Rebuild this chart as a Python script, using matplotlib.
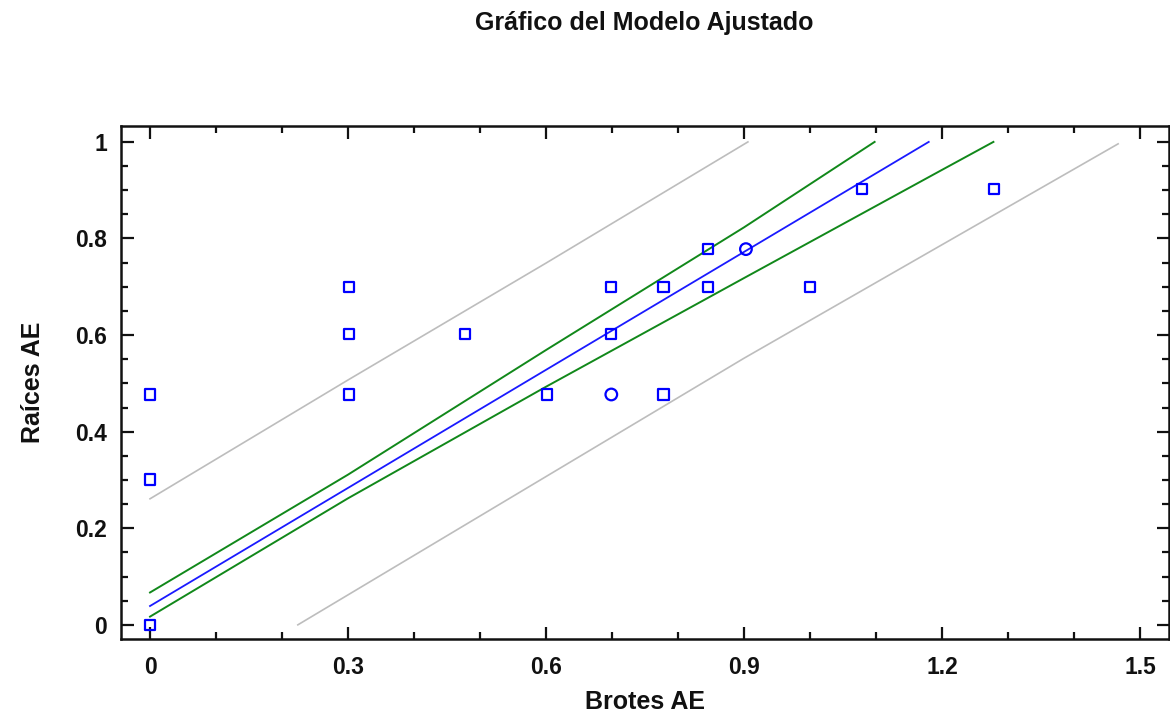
import matplotlib
matplotlib.use("Agg")
import matplotlib.pyplot as plt
from matplotlib.ticker import MultipleLocator, FixedLocator

# ---- data ----
sq_x = [0.0, 0.0, 0.0, 0.301, 0.301, 0.301, 0.477, 0.602, 0.699, 0.699,
        0.778, 0.778, 0.845, 0.845, 1.0, 1.079, 1.279]
sq_y = [0.0, 0.301, 0.477, 0.699, 0.602, 0.477, 0.602, 0.477, 0.699, 0.602,
        0.699, 0.477, 0.778, 0.699, 0.699, 0.903, 0.903]
circ_x = [0.699, 0.903]
circ_y = [0.477, 0.778]

fit_x = [0.0, 0.6, 1.180]
fit_y = [0.039, 0.528, 1.0]
conf_up_x = [0.0, 0.3, 0.6, 0.9, 1.098]
conf_up_y = [0.067, 0.311, 0.569, 0.823, 1.0]
conf_lo_x = [0.0, 0.3, 0.6, 0.9, 1.2, 1.278]
conf_lo_y = [0.017, 0.262, 0.493, 0.718, 0.942, 1.0]
pred_up_x = [0.0, 0.3, 0.6, 0.906]
pred_up_y = [0.261, 0.507, 0.749, 1.0]
pred_lo_x = [0.224, 0.6, 0.9, 1.2, 1.467]
pred_lo_y = [0.0, 0.307, 0.552, 0.787, 0.996]

x_ticks = [0, 0.3, 0.6, 0.9, 1.2, 1.5]
x_tick_labels = ["0", "0.3", "0.6", "0.9", "1.2", "1.5"]
y_ticks = [0, 0.2, 0.4, 0.6, 0.8, 1.0]
y_tick_labels = ["0", "0.2", "0.4", "0.6", "0.8", "1"]

title = "Gráfico del Modelo Ajustado"
x_label = "Brotes AE"
y_label = "Raíces AE"

# ---- figure ----
plt.rcParams['font.family'] = ['Liberation Sans', 'DejaVu Sans']
txt_color = '#111111'

fig = plt.figure(figsize=(11.7, 7.19), dpi=100)
ax = fig.add_axes([0.1034, 0.1108, 0.8957, 0.714])

ax.plot(pred_up_x, pred_up_y, color='#bdbdbd', lw=1.2, zorder=2)
ax.plot(pred_lo_x, pred_lo_y, color='#bdbdbd', lw=1.2, zorder=2)
ax.plot(conf_up_x, conf_up_y, color='#11881a', lw=1.4, zorder=3)
ax.plot(conf_lo_x, conf_lo_y, color='#11881a', lw=1.4, zorder=3)
ax.plot(fit_x, fit_y, color='#1a1aff', lw=1.3, zorder=4)

ax.scatter(sq_x, sq_y, marker='s', s=55, facecolors='none',
           edgecolors='#0000ff', linewidths=1.6, zorder=5)
ax.scatter(circ_x, circ_y, marker='o', s=70, facecolors='none',
           edgecolors='#0000ff', linewidths=1.6, zorder=5)

ax.set_xlim(-0.044, 1.544)
ax.set_ylim(-0.030, 1.033)

ax.xaxis.set_major_locator(FixedLocator(x_ticks))
ax.yaxis.set_major_locator(FixedLocator(y_ticks))
ax.xaxis.set_minor_locator(MultipleLocator(0.1))
ax.yaxis.set_minor_locator(MultipleLocator(0.05))
ax.set_xticklabels(x_tick_labels)
ax.set_yticklabels(y_tick_labels)

ax.tick_params(which='both', direction='in', top=True, right=True,
               color='#111111', width=1.6)
ax.tick_params(which='major', length=9, labelsize=16.5, labelcolor=txt_color)
ax.tick_params(axis='x', which='major', pad=12)
ax.tick_params(axis='y', which='major', pad=10)
ax.tick_params(which='minor', length=5)
for lab in ax.get_xticklabels() + ax.get_yticklabels():
    lab.set_fontweight('bold')

for sp in ax.spines.values():
    sp.set_linewidth(1.8)
    sp.set_color('#111111')

ax.set_xlabel(x_label, fontsize=18, fontweight='bold', color=txt_color,
              labelpad=8)
ax.set_ylabel(y_label, fontsize=18, fontweight='bold', color=txt_color,
              labelpad=22)
fig.text(0.551, 0.968, title, ha='center', va='center', fontsize=18,
         fontweight='bold', color=txt_color)

fig.savefig('out.png', dpi=100)
